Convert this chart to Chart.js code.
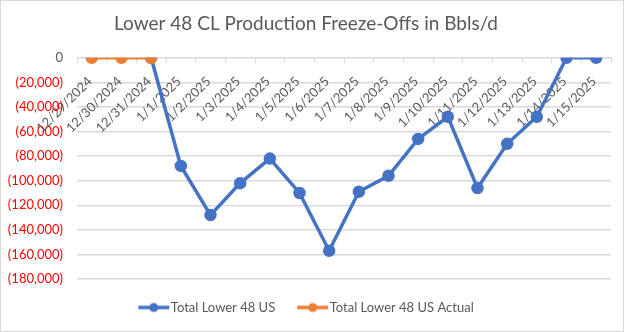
<!DOCTYPE html>
<html>
<head>
<meta charset="utf-8">
<script src="https://cdn.jsdelivr.net/npm/chart.js@4"></script>
<style>
  body { margin: 0; background: #fff; }
  #wrap { width: 624px; height: 332px; box-sizing: border-box; border: 1px solid #d9d9d9; }
</style>
</head>
<body>
<div id="wrap"><canvas id="freezeOffs" width="622" height="330"></canvas></div>
<script>
var dates = ["12/29/2024", "12/30/2024", "12/31/2024", "1/1/2025", "1/2/2025", "1/3/2025", "1/4/2025", "1/5/2025", "1/6/2025", "1/7/2025", "1/8/2025", "1/9/2025", "1/10/2025", "1/11/2025", "1/12/2025", "1/13/2025", "1/14/2025", "1/15/2025"];
var lower48 = [null, null, 0, -88000, -128000, -102000, -82000, -110000, -157000, -109000, -96000, -66000, -48000, -106000, -70000, -48000, 0, 0];
var lower48Actual = [0, 0, 0, null, null, null, null, null, null, null, null, null, null, null, null, null, null, null];
var yTicks = [0, -20000, -40000, -60000, -80000, -100000, -120000, -140000, -160000, -180000];

var gray = "#595959";
var fontFam = "Lato, 'Open Sans', sans-serif";

// legend swatch: short line with a dot, like the Excel legend
// (shifted right inside the image so it sits close to its label)
function swatch(color) {
  var c = document.createElement("canvas");
  c.width = 42; c.height = 12;
  var g = c.getContext("2d");
  g.strokeStyle = color; g.lineWidth = 3.5;
  g.beginPath(); g.moveTo(8, 6); g.lineTo(39, 6); g.stroke();
  g.fillStyle = color;
  g.beginPath(); g.arc(23.5, 6, 4.5, 0, Math.PI * 2); g.fill();
  return c;
}

function fmt(v) {
  if (v === 0) return "0";
  return "(" + Math.abs(v).toLocaleString("en-US") + ")";
}

new Chart("freezeOffs", {
  type: "line",
  data: {
    labels: dates,
    datasets: [{
      label: "Total Lower 48 US",
      data: lower48,
      borderColor: "#4472C4",
      backgroundColor: "#4472C4",
      borderWidth: 3.5,
      pointRadius: 4.5,
      order: 1,
      fill: false
    }, {
      label: "Total Lower 48 US Actual",
      data: lower48Actual,
      borderColor: "#ED7D31",
      backgroundColor: "#ED7D31",
      borderWidth: 3.5,
      pointRadius: 4.5,
      order: 0,
      fill: false
    }]
  },
  options: {
    responsive: false,
    animation: false,
    layout: { padding: { right: 12, bottom: 7 } },
    plugins: {
      title: {
        display: true,
        text: "Lower 48 CL Production Freeze-Offs in Bbls/d",
        color: gray,
        font: { family: fontFam, size: 19, weight: "normal" },
        padding: { top: 11, bottom: 23 }
      },
      legend: {
        position: "bottom",
        labels: {
          color: gray,
          font: { family: fontFam, size: 13 },
          usePointStyle: true,
          pointStyleWidth: 26,
          padding: 22,
          sort: function (a, b) { return a.datasetIndex - b.datasetIndex; },
          generateLabels: function (chart) {
            return chart.data.datasets.map(function (ds, i) {
              return {
                text: ds.label,
                fontColor: gray,
                pointStyle: swatch(ds.borderColor),
                lineWidth: 0,
                strokeStyle: "transparent",
                fillStyle: "transparent",
                hidden: false,
                datasetIndex: i
              };
            });
          }
        }
      }
    },
    scales: {
      x: {
        position: { y: 0 },
        offset: true,
        grid: { drawOnChartArea: false, offset: true, tickLength: 5, color: "#d9d9d9" },
        border: { color: "#d9d9d9" },
        ticks: {
          color: gray,
          font: { family: fontFam, size: 13 },
          minRotation: 45,
          maxRotation: 45,
          autoSkip: false,
          padding: 11,
          labelOffset: -2
        }
      },
      y: {
        min: -180000,
        max: 0,
        afterFit: function (s) { s.width = 76; },
        afterBuildTicks: function (s) { s.ticks = yTicks.map(function (v) { return { value: v }; }); },
        grid: { color: "#d9d9d9", lineWidth: 1.5, drawTicks: false },
        border: { display: false },
        ticks: {
          padding: 14,
          font: { family: fontFam, size: 13 },
          color: function (ctx) { return ctx.tick.value < 0 ? "#ff0000" : gray; },
          callback: function (v) { return fmt(v); }
        }
      }
    }
  }
});
</script>
</body>
</html>
